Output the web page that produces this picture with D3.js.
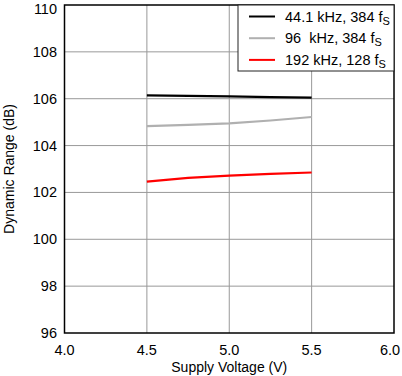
<!DOCTYPE html>
<html><head><meta charset="utf-8">
<script src="https://cdn.jsdelivr.net/npm/d3@7"></script>
<style>body{margin:0;background:#fff}svg{display:block;font-family:"Liberation Sans",Arial,sans-serif}</style>
</head><body>
<script>
const voltages = [4.5, 4.75, 5.0, 5.25, 5.5];
const series441 = [106.14, 106.12, 106.1, 106.07, 106.05];
const series96 = [104.83, 104.88, 104.95, 105.07, 105.22];
const series192 = [102.46, 102.62, 102.72, 102.79, 102.85];
const seriesNames = ["44.1 kHz, 384 f", "96  kHz, 384 f", "192 kHz, 128 f"];
const seriesColors = ["#000000", "#b0b0b0", "#ff0000"];
const xTicks = [4.0, 4.5, 5.0, 5.5, 6.0];
const yTicks = [96, 98, 100, 102, 104, 106, 108, 110];

const W = 402, H = 376;
const svg = d3.select("body").append("svg").attr("width", W).attr("height", H);
const x = d3.scaleLinear().domain([4, 6]).range([64.5, 394]);
const y = d3.scaleLinear().domain([96, 110]).range([333, 5]);

// grid
svg.append("g").selectAll("line").data(xTicks.slice(1, -1)).join("line")
  .attr("x1", d => x(d)).attr("x2", d => x(d)).attr("y1", y(96)).attr("y2", y(110))
  .attr("stroke", "#999").attr("stroke-width", 1);
svg.append("g").selectAll("line").data(yTicks.slice(1, -1)).join("line")
  .attr("x1", x(4)).attr("x2", x(6)).attr("y1", d => y(d)).attr("y2", d => y(d))
  .attr("stroke", "#999").attr("stroke-width", 1);

// series
const all = [series441, series96, series192];
const line = d3.line().x((d, i) => x(voltages[i])).y(d => y(d));
all.forEach((s, k) => {
  svg.append("path").datum(s).attr("d", line).attr("fill", "none")
    .attr("stroke", seriesColors[k]).attr("stroke-width", 2.2);
});

// border
svg.append("rect").attr("x", x(4)).attr("y", y(110)).attr("width", x(6) - x(4)).attr("height", y(96) - y(110))
  .attr("fill", "none").attr("stroke", "#000").attr("stroke-width", 1.5);

// axes labels
svg.append("g").selectAll("text").data(yTicks).join("text")
  .attr("x", 57).attr("y", d => Math.max(y(d) + 5, 13.5)).attr("text-anchor", "end")
  .attr("font-size", 14.5).attr("fill", "#000").text(d => d);
svg.append("g").selectAll("text").data(xTicks).join("text")
  .attr("x", d => Math.min(x(d), 390)).attr("y", 355).attr("text-anchor", "middle")
  .attr("font-size", 14.5).attr("fill", "#000").text(d => d.toFixed(1));
svg.append("text").attr("x", x(5)).attr("y", 372).attr("text-anchor", "middle")
  .attr("font-size", 14).text("Supply Voltage (V)");
svg.append("text").attr("transform", `translate(14,${(y(96) + y(110)) / 2}) rotate(-90)`)
  .attr("text-anchor", "middle").attr("font-size", 14).text("Dynamic Range (dB)");

// legend
const lg = svg.append("g");
lg.append("rect").attr("x", 238).attr("y", 5).attr("width", 394 - 238).attr("height", 66)
  .attr("fill", "#fff").attr("stroke", "#222").attr("stroke-width", 1);
seriesNames.forEach((n, k) => {
  const yy = 16.5 + k * 21.7;
  lg.append("line").attr("x1", 249).attr("x2", 275).attr("y1", yy).attr("y2", yy)
    .attr("stroke", seriesColors[k]).attr("stroke-width", 2);
  const t = lg.append("text").attr("x", 285).attr("y", yy + 5).attr("font-size", 14.5).attr("xml:space", "preserve");
  t.append("tspan").text(n);
  t.append("tspan").attr("dy", 3).attr("font-size", 11).text("S");
});
</script>
</body></html>
